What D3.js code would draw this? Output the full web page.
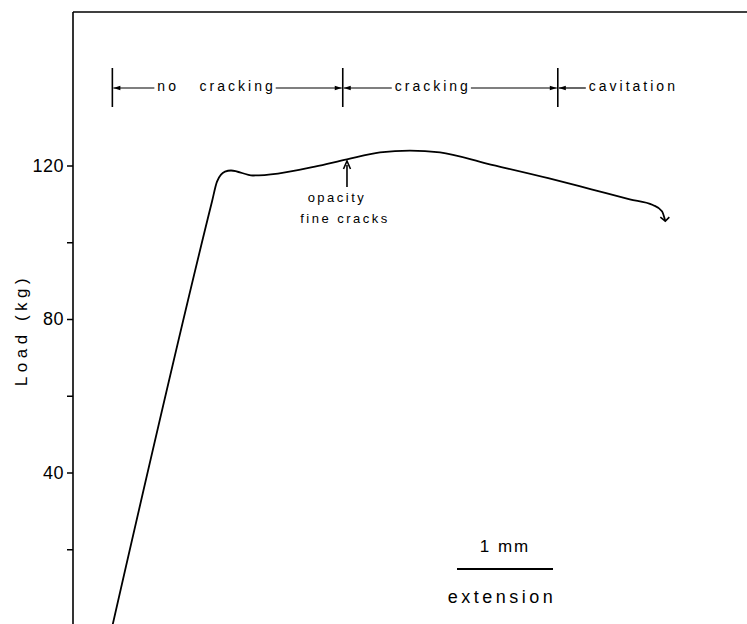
<!DOCTYPE html>
<html>
<head>
<meta charset="utf-8">
<script src="https://cdn.jsdelivr.net/npm/d3@7"></script>
<style>
  html, body { margin: 0; padding: 0; background: #fff; }
  svg { display: block; font-family: "Liberation Sans", Arial, Helvetica, sans-serif; }
</style>
</head>
<body>
<svg id="chart" width="747" height="624"></svg>
<script>
// Load–extension record (extension in mm, load in kg)
const extension = [0.41, 1.448, 1.50, 1.583, 1.646, 1.875, 2.135, 2.52, 2.854, 3.198, 3.51, 3.823, 4.31, 4.95, 5.40, 5.80, 6.04, 6.135, 6.17];
const load      = [0,    110.6, 115.8, 118.4, 118.7, 117.4, 117.9, 119.7, 121.6, 123.4, 123.9, 123.4, 120.5, 116.7, 113.8, 111.2, 109.7, 108.1, 105.5];

// Axis ticks
const loadTicks = [20, 40, 60, 80, 100, 120];
const loadLabels = [40, 80, 120];

// Deformation regimes: boundaries (mm) and names
const phaseBounds = [0.41, 2.81, 5.05];
const phaseNames = ["no   cracking", "cracking", "cavitation"];

// Onset of opacity
const opacityAt = 2.854;
const opacityLabel = ["opacity", "fine cracks"];

// Scale bar length (mm)
const scaleBar = 1;

const svg = d3.select("#chart");
const plotLeft = 73, plotTop = 12;

const x = d3.scaleLinear().domain([0, 7]).range([plotLeft, plotLeft + 7 * 96]);
const y = d3.scaleLinear().domain([0, 160]).range([626, plotTop]);

// Frame: left axis and top border
svg.append("line").attr("x1", plotLeft).attr("x2", plotLeft).attr("y1", plotTop).attr("y2", 624)
  .attr("stroke", "#000").attr("stroke-width", 1.6);
svg.append("line").attr("x1", plotLeft).attr("x2", 747).attr("y1", plotTop).attr("y2", plotTop)
  .attr("stroke", "#000").attr("stroke-width", 1.6);

// Y ticks
const yAxis = d3.axisLeft(y).tickValues(loadTicks).tickSize(6).tickPadding(3)
  .tickFormat(d => loadLabels.includes(d) ? d : "");
const gy = svg.append("g").attr("transform", `translate(${plotLeft},0)`).call(yAxis);
gy.select(".domain").remove();
gy.selectAll(".tick line").attr("stroke", "#000").attr("stroke-width", 1.5);
gy.selectAll(".tick text").attr("font-size", 18).attr("letter-spacing", 0.5)
  .attr("fill", "#000").attr("font-family", "'Liberation Sans', Arial, sans-serif");

// Y axis title
svg.append("text")
  .attr("transform", "translate(27,330) rotate(-90)")
  .attr("text-anchor", "middle")
  .attr("font-size", 17).attr("letter-spacing", 4.5)
  .text("Load (kg)");

// Load curve
const pts = extension.map((e, i) => [e, load[i]]);
const line = d3.line().x(d => x(d[0])).y(d => y(d[1])).curve(d3.curveMonotoneX);
svg.append("path").datum(pts).attr("d", line)
  .attr("fill", "none").attr("stroke", "#000").attr("stroke-width", 1.8)
  .attr("stroke-linejoin", "round");

// Arrowhead at the end of the curve (fracture)
const tip = pts[pts.length - 1];
const tx = x(tip[0]), ty = y(tip[1]);
svg.append("path")
  .attr("d", `M${tx - 5},${ty - 4} L${tx},${ty} L${tx + 4},${ty - 4}`)
  .attr("fill", "none").attr("stroke", "#000").attr("stroke-width", 1.6);

// Regime bars and labels across the top
const barTop = 68, barBot = 107, arrowY = 88;
const ann = svg.append("g");
phaseBounds.forEach(b => {
  ann.append("line").attr("x1", x(b)).attr("x2", x(b)).attr("y1", barTop).attr("y2", barBot)
    .attr("stroke", "#000").attr("stroke-width", 1.6);
});

function arrowHead(px, dir) {
  // dir = -1 points left, +1 points right
  ann.append("path")
    .attr("d", `M${px},${arrowY} L${px - dir * 7},${arrowY - 2.2} L${px - dir * 7},${arrowY + 2.2} Z`)
    .attr("fill", "#000");
}

const textOffsets = [45, 52, 31];
phaseNames.forEach((name, i) => {
  const x0 = x(phaseBounds[i]);
  const tStart = x0 + textOffsets[i];
  const t = ann.append("text").attr("x", tStart).attr("y", arrowY + 3)
    .attr("font-size", 14).attr("letter-spacing", 3)
    .style("white-space", "pre").text(name);
  // left arrow back to the boundary
  ann.append("line").attr("x1", x0 + 1).attr("x2", tStart - 3).attr("y1", arrowY).attr("y2", arrowY)
    .attr("stroke", "#000").attr("stroke-width", 1.2);
  arrowHead(x0 + 1, -1);
  if (i < phaseBounds.length - 1) {
    const x1 = x(phaseBounds[i + 1]);
    const tEnd = tStart + t.node().getComputedTextLength();
    ann.append("line").attr("x1", tEnd).attr("x2", x1 - 1).attr("y1", arrowY).attr("y2", arrowY)
      .attr("stroke", "#000").attr("stroke-width", 1.2);
    arrowHead(x1 - 1, 1);
  }
});

// Opacity marker
const ox = x(opacityAt);
svg.append("line").attr("x1", ox).attr("x2", ox).attr("y1", 165).attr("y2", 187)
  .attr("stroke", "#000").attr("stroke-width", 1.6);
svg.append("path").attr("d", `M${ox - 3.5},${169} L${ox},${161} L${ox + 3.5},${169}`)
  .attr("fill", "none").attr("stroke", "#000").attr("stroke-width", 1.6);
svg.append("text").attr("x", ox - 10).attr("y", 202).attr("text-anchor", "middle")
  .attr("font-size", 13).attr("letter-spacing", 2.5).text(opacityLabel[0]);
svg.append("text").attr("x", ox - 2).attr("y", 223).attr("text-anchor", "middle")
  .attr("font-size", 13).attr("letter-spacing", 2.5).text(opacityLabel[1]);

// Scale bar for extension
const sx0 = x(4.0), sx1 = x(4.0 + scaleBar), sy = 569;
svg.append("line").attr("x1", sx0).attr("x2", sx1).attr("y1", sy).attr("y2", sy)
  .attr("stroke", "#000").attr("stroke-width", 1.8);
svg.append("text").attr("x", (sx0 + sx1) / 2).attr("y", 552).attr("text-anchor", "middle")
  .attr("font-size", 17).attr("letter-spacing", 2)
  .style("white-space", "pre").text(`${scaleBar} mm`);
svg.append("text").attr("x", (sx0 + sx1) / 2 - 3).attr("y", 603).attr("text-anchor", "middle")
  .attr("font-size", 18).attr("letter-spacing", 3.5).text("extension");
</script>
</body>
</html>
